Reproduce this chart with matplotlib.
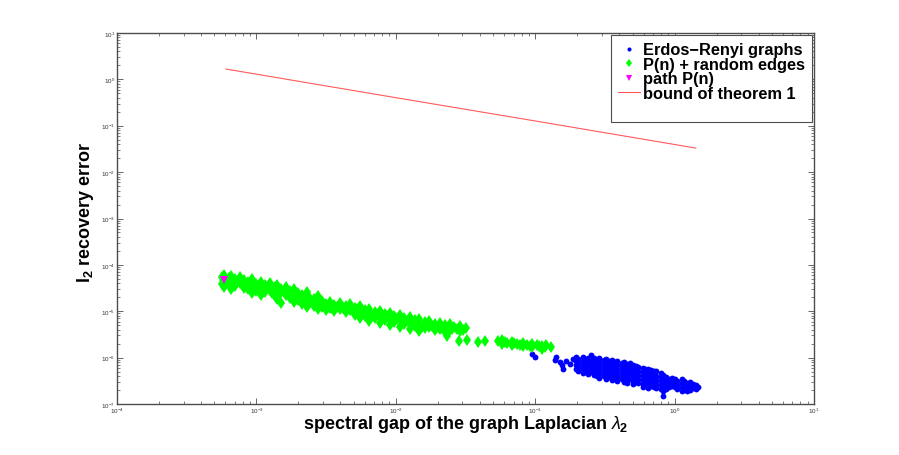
import numpy as np
import matplotlib
matplotlib.use('Agg')
import matplotlib.pyplot as plt
from matplotlib.lines import Line2D
from matplotlib.ticker import LogLocator, NullFormatter

plt.rcParams['font.family'] = ['Liberation Sans', 'DejaVu Sans']
plt.rcParams['mathtext.fontset'] = 'custom'
plt.rcParams['mathtext.rm'] = 'Liberation Sans'
plt.rcParams['mathtext.it'] = 'Liberation Sans:italic'
plt.rcParams['mathtext.bf'] = 'Liberation Sans:bold'

# P(n) + random edges (log10 of lambda_2, log10 of error)
green_lx = [-3.25, -3.25, -3.23, -3.23, -3.23, -3.20, -3.20, -3.18, -3.18, -3.18,
            -3.15, -3.15, -3.12, -3.12, -3.09, -3.09, -3.06, -3.06, -3.03, -3.03,
            -3.03, -3.00, -3.00, -2.97, -2.97, -2.97, -2.94, -2.94, -2.90, -2.90,
            -2.87, -2.87, -2.85, -2.85, -2.85, -2.82, -2.82, -2.79, -2.79, -2.76,
            -2.76, -2.73, -2.73, -2.73, -2.70, -2.70, -2.67, -2.67, -2.64, -2.64,
            -2.64, -2.62, -2.62, -2.59, -2.59, -2.56, -2.56, -2.56, -2.53, -2.53,
            -2.50, -2.50, -2.47, -2.47, -2.44, -2.44, -2.40, -2.40, -2.36, -2.36,
            -2.33, -2.33, -2.29, -2.29, -2.26, -2.26, -2.26, -2.22, -2.22, -2.19,
            -2.19, -2.19, -2.15, -2.15, -2.11, -2.11, -2.11, -2.08, -2.08, -2.04,
            -2.04, -2.04, -2.01, -2.01, -1.97, -1.97, -1.97, -1.94, -1.94, -1.90,
            -1.90, -1.90, -1.86, -1.86, -1.83, -1.83, -1.83, -1.79, -1.79, -1.76,
            -1.76, -1.72, -1.72, -1.68, -1.68, -1.65, -1.65, -1.61, -1.61, -1.58,
            -1.54, -1.54, -1.50, -1.63, -1.55, -1.49, -1.41, -1.36, -1.27, -1.24,
            -1.24, -1.20, -1.17, -1.17, -1.13, -1.09, -1.09, -1.06, -1.02, -1.02,
            -0.99, -0.95, -0.95, -0.92, -0.89,
            -3.24, -3.21, -3.19, -3.165, -3.14, -3.10, -3.075, -3.045, -3.015, -2.985,
            -2.955, -2.92, -2.89, -2.86, -2.835, -2.805, -2.775, -2.745, -2.715, -2.685,
            -2.655, -2.63, -2.605, -2.575, -2.545, -2.515, -2.485, -2.455, -2.42, -2.38,
            -2.345, -2.31, -2.275, -2.24, -2.205, -2.17, -2.13, -2.095, -2.06, -2.025,
            -1.99, -1.955, -1.92, -1.88, -1.845, -1.81, -1.775, -1.74, -1.70, -1.665,
            -1.63, -1.595, -1.56, -1.52, -1.22, -1.15, -1.11, -1.04, -0.97, -0.93]
green_ly = [-4.26, -4.41, -4.22, -4.35, -4.47, -4.28, -4.41, -4.24, -4.39, -4.52,
            -4.30, -4.45, -4.26, -4.39, -4.32, -4.49, -4.37, -4.52, -4.30, -4.45,
            -4.60, -4.41, -4.56, -4.37, -4.52, -4.65, -4.43, -4.58, -4.39, -4.54,
            -4.47, -4.67, -4.43, -4.60, -4.73, -4.52, -4.82, -4.47, -4.65, -4.56,
            -4.71, -4.52, -4.67, -4.80, -4.60, -4.75, -4.65, -4.84, -4.58, -4.73,
            -4.91, -4.69, -4.82, -4.73, -4.88, -4.67, -4.80, -4.95, -4.78, -4.91,
            -4.84, -4.97, -4.80, -4.93, -4.86, -4.99, -4.82, -4.95, -4.88, -5.01,
            -4.84, -4.97, -4.93, -5.08, -4.88, -5.01, -5.14, -4.97, -5.10, -4.95,
            -5.08, -5.21, -5.01, -5.14, -4.99, -5.12, -5.25, -5.06, -5.19, -5.03,
            -5.16, -5.29, -5.10, -5.23, -5.08, -5.21, -5.34, -5.14, -5.27, -5.12,
            -5.25, -5.38, -5.19, -5.31, -5.16, -5.29, -5.42, -5.23, -5.36, -5.21,
            -5.34, -5.27, -5.40, -5.25, -5.38, -5.29, -5.44, -5.27, -5.40, -5.34,
            -5.31, -5.42, -5.36, -5.53, -5.64, -5.62, -5.66, -5.64, -5.64, -5.62,
            -5.70, -5.68, -5.66, -5.72, -5.70, -5.68, -5.75, -5.72, -5.70, -5.77,
            -5.72, -5.75, -5.81, -5.72, -5.77,
            -4.32, -4.37, -4.33, -4.45, -4.36, -4.42, -4.44, -4.42, -4.50, -4.46,
            -4.57, -4.49, -4.60, -4.52, -4.66, -4.58, -4.60, -4.63, -4.74, -4.70,
            -4.78, -4.76, -4.80, -4.74, -4.86, -4.86, -4.90, -4.92, -4.90, -4.94,
            -4.92, -5.00, -4.95, -5.06, -5.02, -5.10, -5.06, -5.12, -5.10, -5.22,
            -5.16, -5.26, -5.20, -5.30, -5.24, -5.35, -5.28, -5.32, -5.34, -5.36,
            -5.34, -5.38, -5.38, -5.40, -5.66, -5.69, -5.72, -5.74, -5.76, -5.78]

# Erdos-Renyi graphs (log10 of lambda_2, log10 of error)
blue_lx = [-1.02, -1.00, -0.86, -0.85, -0.82, -0.81, -0.80, -0.78, -0.75, -0.73,
           -0.71, -0.71, -0.71, -0.71, -0.69, -0.69, -0.69, -0.69,
           -0.66, -0.66, -0.66, -0.66, -0.66, -0.64, -0.64, -0.64, -0.64,
           -0.62, -0.62, -0.62, -0.62, -0.62, -0.60, -0.60, -0.60, -0.60, -0.60,
           -0.58, -0.58, -0.58, -0.58, -0.58, -0.56, -0.56, -0.56, -0.56, -0.56,
           -0.54, -0.54, -0.54, -0.54, -0.54, -0.54, -0.51, -0.51, -0.51, -0.51, -0.51,
           -0.49, -0.49, -0.49, -0.49, -0.49, -0.49, -0.47, -0.47, -0.47, -0.47, -0.47,
           -0.45, -0.45, -0.45, -0.45, -0.45, -0.45, -0.43, -0.43, -0.43, -0.43, -0.43,
           -0.41, -0.41, -0.41, -0.41, -0.41, -0.41, -0.38, -0.38, -0.38, -0.38, -0.38,
           -0.36, -0.36, -0.36, -0.36, -0.36, -0.36, -0.34, -0.34, -0.34, -0.34, -0.34, -0.34,
           -0.32, -0.32, -0.32, -0.32, -0.32, -0.30, -0.30, -0.30, -0.30, -0.30, -0.30,
           -0.28, -0.28, -0.28, -0.28, -0.28, -0.26, -0.26, -0.26, -0.26, -0.26,
           -0.23, -0.23, -0.23, -0.23, -0.23, -0.23, -0.21, -0.21, -0.21, -0.21, -0.21,
           -0.19, -0.19, -0.19, -0.19, -0.19, -0.19, -0.17, -0.17, -0.17, -0.17, -0.17,
           -0.15, -0.15, -0.15, -0.15, -0.15, -0.13, -0.13, -0.13, -0.13, -0.13,
           -0.10, -0.10, -0.10, -0.10, -0.10, -0.08, -0.08, -0.08, -0.08, -0.08, -0.08,
           -0.06, -0.06, -0.06, -0.06, -0.04, -0.04, -0.04, -0.02, -0.02, -0.02,
           0.00, 0.00, 0.00, 0.02, 0.02, 0.02, 0.05, 0.05, 0.05, 0.05,
           0.07, 0.07, 0.07, 0.09, 0.09, 0.09, 0.11, 0.11, 0.11,
           0.13, 0.13, 0.15, 0.15, 0.17]
blue_ly = [-5.92, -5.98, -6.05, -5.98, -6.09, -6.16, -6.24, -6.07, -6.13, -6.03,
           -5.98, -6.07, -6.16, -6.24, -6.03, -6.11, -6.20, -6.28,
           -5.98, -6.07, -6.16, -6.24, -6.33, -6.03, -6.11, -6.20, -6.28,
           -6.00, -6.09, -6.18, -6.26, -6.35, -5.94, -6.05, -6.13, -6.22, -6.31,
           -6.00, -6.09, -6.18, -6.26, -6.37, -6.05, -6.13, -6.22, -6.31, -6.39,
           -6.00, -6.09, -6.18, -6.26, -6.35, -6.44, -6.05, -6.13, -6.22, -6.31, -6.39,
           -6.03, -6.11, -6.20, -6.28, -6.37, -6.46, -6.07, -6.16, -6.24, -6.33, -6.41,
           -6.05, -6.13, -6.22, -6.31, -6.39, -6.48, -6.09, -6.18, -6.26, -6.35, -6.44,
           -6.07, -6.16, -6.24, -6.33, -6.41, -6.50, -6.11, -6.20, -6.28, -6.37, -6.46,
           -6.09, -6.18, -6.26, -6.35, -6.44, -6.52, -6.13, -6.22, -6.31, -6.39, -6.48, -6.54,
           -6.11, -6.20, -6.28, -6.37, -6.46, -6.16, -6.24, -6.33, -6.41, -6.50, -6.56,
           -6.18, -6.26, -6.35, -6.44, -6.52, -6.20, -6.28, -6.37, -6.46, -6.54,
           -6.22, -6.31, -6.39, -6.48, -6.56, -6.63, -6.24, -6.33, -6.41, -6.50, -6.59,
           -6.24, -6.33, -6.41, -6.50, -6.59, -6.65, -6.26, -6.35, -6.44, -6.52, -6.61,
           -6.28, -6.37, -6.46, -6.54, -6.63, -6.28, -6.39, -6.48, -6.56, -6.65,
           -6.33, -6.41, -6.50, -6.59, -6.67, -6.37, -6.46, -6.54, -6.63, -6.72, -6.82,
           -6.41, -6.50, -6.59, -6.67, -6.46, -6.54, -6.63, -6.44, -6.52, -6.61,
           -6.46, -6.54, -6.63, -6.50, -6.59, -6.67, -6.46, -6.54, -6.63, -6.72,
           -6.50, -6.59, -6.67, -6.54, -6.63, -6.72, -6.52, -6.61, -6.69,
           -6.56, -6.65, -6.59, -6.67, -6.63]

# path P(n)
path_lam = [5.9e-4]
path_err = [4.8e-5]

# bound of theorem 1
bound_lam = [6.05e-4, 7.7e-3, 1.08e-1, 1.42]
bound_val = [1.67, 0.46, 0.122, 0.033]

green_lam = 10.0 ** np.array(green_lx)
green_err = 10.0 ** np.array(green_ly)
blue_lam = 10.0 ** np.array(blue_lx)
blue_err = 10.0 ** np.array(blue_ly)

fig = plt.figure(figsize=(8.99, 4.56), dpi=100)
ax = fig.add_axes([117 / 899, 1 - 405 / 456, 697 / 899, 371 / 456])

h1, = ax.plot(blue_lam, blue_err, 'o', color='#0000ff', markersize=4.2,
              markeredgewidth=0, label='Erdos\u2212Renyi graphs')
h2, = ax.plot(green_lam, green_err, 'd', color='#00ff00', markersize=6.5,
              markeredgewidth=0, label='P(n) + random edges')
h3, = ax.plot(path_lam, path_err, 'v', color='#ff00ff', markersize=6,
              markeredgewidth=0, label='path P(n)')
h4, = ax.plot(bound_lam, bound_val, '-', color='#ff5a5a', linewidth=0.8,
              label='bound of theorem 1')

ax.set_xscale('log')
ax.set_yscale('log')
ax.set_xlim(1e-4, 1e1)
ax.set_ylim(1e-7, 1e1)
ax.xaxis.set_major_locator(LogLocator(base=10, numticks=10))
ax.yaxis.set_major_locator(LogLocator(base=10, numticks=12))
ax.xaxis.set_minor_locator(LogLocator(base=10, subs=np.arange(2, 10), numticks=20))
ax.yaxis.set_minor_locator(LogLocator(base=10, subs=np.arange(2, 10), numticks=20))
ax.xaxis.set_minor_formatter(NullFormatter())
ax.yaxis.set_minor_formatter(NullFormatter())
ax.tick_params(which='both', direction='in', top=True, right=True, colors='0.3',
               labelcolor='0.2', labelsize=4.5, pad=1.5)
ax.tick_params(which='major', length=4, width=0.6)
ax.tick_params(which='minor', length=2.2, width=0.5)
for s in ax.spines.values():
    s.set_color('0.3')
    s.set_linewidth(1.0)

ax.set_xlabel(r'spectral gap of the graph Laplacian $\lambda_{\mathbf{2}}$',
              fontsize=13, fontweight='bold', labelpad=-1.5)
ax.set_ylabel(r'l$_{\mathbf{2}}$ recovery error', fontsize=13, fontweight='bold')
ax.yaxis.set_label_coords(-0.030, 0.52)

# matlab legend box leaves empty room under the last entry
spacer = Line2D([], [], linestyle='none')
leg = ax.legend([h1, h2, h3, h4, spacer],
                [h1.get_label(), h2.get_label(), h3.get_label(), h4.get_label(), ''],
                loc='upper right', borderaxespad=0.15, fancybox=False, framealpha=1,
                edgecolor='0.3', handlelength=1.35, handletextpad=0.15,
                labelspacing=-0.03, borderpad=0.42, markerscale=0.7,
                prop={'weight': 'bold', 'size': 11.8})
leg.get_frame().set_linewidth(0.8)

fig.savefig('out.png', dpi=100)
